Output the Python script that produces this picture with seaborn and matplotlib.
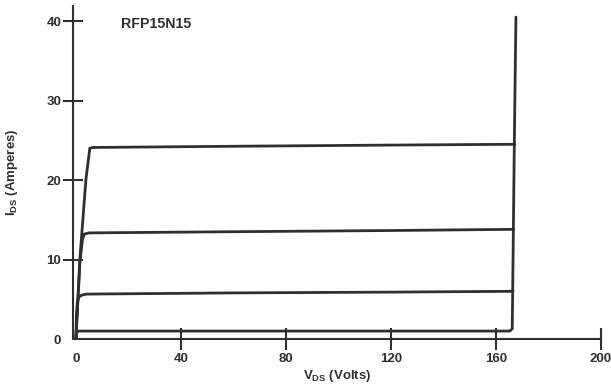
import numpy as np
import pandas as pd
import matplotlib
matplotlib.use("Agg")
import matplotlib.pyplot as plt
import seaborn as sns

# ---- data ----
v_curve1 = [0.0, 0.3, 1.0, 60.0, 120.0, 165.3, 166.2, 166.5, 167.0, 167.6]
i_curve1 = [0.0, 0.8, 1.0, 1.0, 1.0, 1.0, 1.3, 10.0, 25.0, 40.5]

v_curve2 = [0.0, 0.2, 0.5, 1.0, 2.0, 4.0, 60.0, 120.0, 166.5]
i_curve2 = [0.0, 3.0, 4.5, 5.2, 5.5, 5.65, 5.8, 5.9, 6.0]

v_curve3 = [0.0, 0.8, 1.5, 2.5, 3.2, 5.0, 60.0, 120.0, 166.8]
i_curve3 = [0.0, 5.0, 9.5, 12.5, 13.2, 13.35, 13.5, 13.65, 13.8]

v_curve4 = [0.0, 1.5, 3.8, 5.3, 6.5, 60.0, 120.0, 167.2]
i_curve4 = [0.0, 10.0, 20.0, 24.0, 24.1, 24.25, 24.4, 24.5]

x_ticks = [0, 40, 80, 120, 160, 200]
y_ticks = [0, 10, 20, 30, 40]
title_text = "RFP15N15"

curves = {"c1": (v_curve1, i_curve1), "c2": (v_curve2, i_curve2),
          "c3": (v_curve3, i_curve3), "c4": (v_curve4, i_curve4)}
frames = []
for name, (v, i) in curves.items():
    frames.append(pd.DataFrame({"V": v, "I": i, "curve": name,
                                "order": np.arange(len(v))}))
df = pd.concat(frames, ignore_index=True)

sns.set_theme(style="white")
plt.rcParams["font.family"] = ["Liberation Sans", "DejaVu Sans"]
plt.rcParams["font.weight"] = "bold"
plt.rcParams["mathtext.fontset"] = "custom"
plt.rcParams["mathtext.rm"] = "Liberation Sans:bold"
plt.rcParams["mathtext.bf"] = "Liberation Sans:bold"
plt.rcParams["mathtext.it"] = "Liberation Sans:bold"

W, H = 611, 384
fig = plt.figure(figsize=(W / 100, H / 100), dpi=100)
ax = fig.add_axes([73 / W, 45 / H, (601 - 73) / W, (339 - 6) / H])

ink = "#2f2f2f"
for name in curves:
    sub = df[df["curve"] == name]
    sns.lineplot(data=sub, x="V", y="I", sort=False, estimator=None,
                 color=ink, linewidth=2.0, ax=ax, legend=False)

ax.set_xlim(-1.1, 200)
ax.set_ylim(0, 41.9)
for s in ["top", "right"]:
    ax.spines[s].set_visible(False)
for s in ["left", "bottom"]:
    ax.spines[s].set_color(ink)
    ax.spines[s].set_linewidth(1.5)

fs = 9.5
ax.set_xticks(x_ticks)
ax.set_xticklabels([str(t) for t in x_ticks], fontsize=fs, fontweight="bold", color=ink)
ax.set_yticks(y_ticks)
ax.set_yticklabels([str(t) for t in y_ticks], fontsize=fs, fontweight="bold", color=ink)
ax.tick_params(axis="x", bottom=True, direction="inout", length=16, width=1.5, color=ink, pad=2)
ax.tick_params(axis="y", left=True, direction="inout", length=15, width=1.5, color=ink, pad=1)
ax.xaxis.get_major_ticks()[0].tick1line.set_visible(False)
ax.yaxis.get_major_ticks()[0].tick1line.set_visible(False)

ax.set_xlabel(r"V$_{\mathrm{DS}}$ (Volts)", fontsize=fs, fontweight="bold", color=ink)
ax.set_ylabel(r"I$_{\mathrm{DS}}$ (Amperes)", fontsize=fs, fontweight="bold", color=ink)
ax.xaxis.set_label_coords(0.5, -0.088)
ax.yaxis.set_label_coords(-0.1, 0.5)

ax.text(30.7, 39.6, title_text, fontsize=10.2, fontweight="bold", color=ink,
        ha="center", va="center")

fig.savefig("out.png", dpi=100, facecolor="white")
